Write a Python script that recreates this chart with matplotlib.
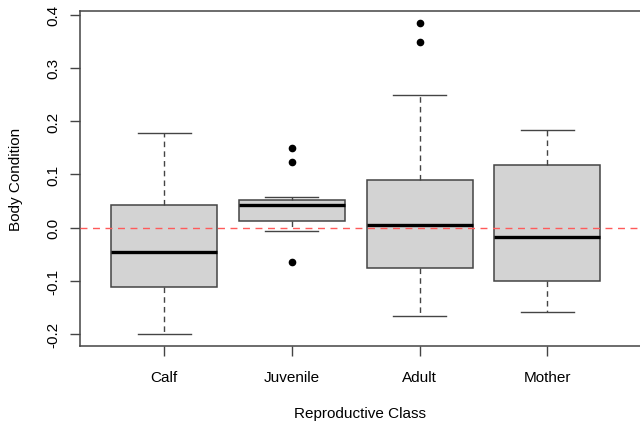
import matplotlib.pyplot as plt

plt.rcParams['font.family'] = ['Liberation Sans', 'DejaVu Sans']

classes = ["Calf", "Juvenile", "Adult", "Mother"]
whisker_low = [-0.200, -0.007, -0.166, -0.159]
q1 = [-0.112, 0.012, -0.076, -0.101]
medians = [-0.045, 0.043, 0.005, -0.017]
q3 = [0.043, 0.052, 0.090, 0.118]
whisker_high = [0.178, 0.058, 0.249, 0.183]
outliers = [[], [0.150, 0.123, -0.065], [0.384, 0.348], []]

stats = []
for i, name in enumerate(classes):
    stats.append({"label": name, "whislo": whisker_low[i], "q1": q1[i], "med": medians[i],
                  "q3": q3[i], "whishi": whisker_high[i], "fliers": outliers[i]})

edge = "#444444"
fig = plt.figure(figsize=(6.4, 4.27), dpi=100)
ax = fig.add_axes([0.125, 0.1874, 0.875, 0.7845])

ax.axhline(0, color="#ff5a5a", lw=1, linestyle=(0, (5, 4)), zorder=3)

ax.bxp(stats, positions=[1, 2, 3, 4], widths=0.83, capwidths=0.415, patch_artist=True,
       boxprops=dict(facecolor="#d3d3d3", edgecolor=edge, linewidth=1.1),
       medianprops=dict(color="black", linewidth=2.4),
       whiskerprops=dict(color=edge, linewidth=1, linestyle=(0, (4, 3))),
       capprops=dict(color=edge, linewidth=1),
       flierprops=dict(marker="o", markerfacecolor="black", markeredgecolor="black", markersize=4.5))

ax.set_xlim(0.34, 4.725)
ax.set_ylim(-0.222, 0.4066)
ax.set_yticks([-0.2, -0.1, 0.0, 0.1, 0.2, 0.3, 0.4])
ax.set_yticklabels(["-0.2", "-0.1", "0.0", "0.1", "0.2", "0.3", "0.4"], rotation=90, va="center")
ax.set_xticks([1, 2, 3, 4])
ax.set_xticklabels(classes)

for s in ["left", "top", "bottom"]:
    ax.spines[s].set_color(edge)
    ax.spines[s].set_linewidth(1.1)
ax.spines["right"].set_visible(False)
ax.tick_params(axis="both", color=edge, length=7, width=1, labelsize=11, labelcolor="black")
ax.tick_params(axis="y", pad=7)
ax.tick_params(axis="x", pad=10)

ax.set_xlabel("Reproductive Class", fontsize=11, labelpad=16)
ax.set_ylabel("Body Condition", fontsize=11, labelpad=17)

fig.savefig("out.png", dpi=100)
